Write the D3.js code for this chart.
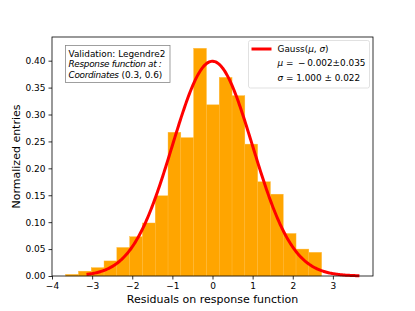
<!DOCTYPE html>
<html>
<head>
<meta charset="utf-8">
<script src="https://cdn.jsdelivr.net/npm/d3@7"></script>
<style>
  body { margin: 0; background: #fff; }
  svg { font-family: "DejaVu Sans", sans-serif; }
</style>
</head>
<body>
<svg id="chart" width="415" height="311"></svg>
<script>
// histogram bins (20 equal bins) and normalized heights
var binStart = -3.66, binEnd = 2.72;
var heights = [0.003, 0.009, 0.0155, 0.028, 0.053, 0.073, 0.0985, 0.149, 0.267, 0.257,
               0.423, 0.318, 0.369, 0.335, 0.245, 0.175, 0.152, 0.079, 0.050, 0.044];
var xTicks = [-4, -3, -2, -1, 0, 1, 2, 3];
var yTicks = [0.00, 0.05, 0.10, 0.15, 0.20, 0.25, 0.30, 0.35, 0.40];
// gauss fit
var mu = -0.002, sigma = 1.000;
var curveRange = [-3.14, 3.66];

var svg = d3.select("#chart");
var margin = { left: 52, right: 42, top: 37, bottom: 35 };
var W = 415, H = 311;

var x = d3.scaleLinear().domain([-4.0, 4.0]).range([margin.left, W - margin.right]);
var y = d3.scaleLinear().domain([0, 0.444]).range([H - margin.bottom, margin.top]);

var binW = (binEnd - binStart) / heights.length;
var bins = heights.map(function(h, i) {
  return { x0: binStart + i * binW, x1: binStart + (i + 1) * binW, h: h };
});

// bars
svg.append("g").selectAll("rect")
  .data(bins)
  .enter()
  .append("rect")
  .attr("x", function(d) { return x(d.x0); })
  .attr("width", function(d) { return x(d.x1) - x(d.x0); })
  .attr("y", function(d) { return y(d.h); })
  .attr("height", function(d) { return y(0) - y(d.h); })
  .attr("fill", "#ffa500")
  .attr("stroke", "#ffb938")
  .attr("stroke-width", 0.4);

// gauss curve
var pts = d3.range(0, 301).map(function(i) {
  var xv = curveRange[0] + (curveRange[1] - curveRange[0]) * i / 300;
  var yv = Math.exp(-0.5 * Math.pow((xv - mu) / sigma, 2)) / (sigma * Math.sqrt(2 * Math.PI));
  return [xv, yv];
});
svg.append("path")
  .datum(pts)
  .attr("d", d3.line().x(function(d) { return x(d[0]); }).y(function(d) { return y(d[1]); }))
  .attr("fill", "none")
  .attr("stroke", "#ff0000")
  .attr("stroke-width", 3);

// axes
var xAxis = svg.append("g")
  .attr("transform", "translate(0," + (H - margin.bottom) + ")")
  .call(d3.axisBottom(x).tickValues(xTicks).tickSize(3.5).tickPadding(3)
    .tickFormat(function(d) { return d < 0 ? "\u2212" + Math.abs(d) : d; }));
var yAxis = svg.append("g")
  .attr("transform", "translate(" + margin.left + ",0)")
  .call(d3.axisLeft(y).tickValues(yTicks).tickSize(3.5).tickPadding(3).tickFormat(d3.format(".2f")));
[xAxis, yAxis].forEach(function(a) {
  a.select(".domain").remove();
  a.selectAll("text").attr("font-size", 9).attr("fill", "#000").attr("font-family", "DejaVu Sans");
  a.selectAll("line").attr("stroke", "#000").attr("stroke-width", 0.8);
});

// frame
svg.append("rect")
  .attr("x", margin.left).attr("y", margin.top)
  .attr("width", W - margin.left - margin.right)
  .attr("height", H - margin.top - margin.bottom)
  .attr("fill", "none").attr("stroke", "#000").attr("stroke-width", 0.8);

// axis labels
svg.append("text")
  .attr("x", (margin.left + W - margin.right) / 2).attr("y", 303)
  .attr("text-anchor", "middle").attr("font-size", 11)
  .text("Residuals on response function");
svg.append("text")
  .attr("transform", "translate(20," + ((margin.top + H - margin.bottom) / 2) + ") rotate(-90)")
  .attr("text-anchor", "middle").attr("font-size", 11)
  .text("Normalized entries");

// info box
var info = svg.append("g");
info.append("rect")
  .attr("x", 65.5).attr("y", 45.5).attr("width", 104.5).attr("height", 37)
  .attr("fill", "#fff").attr("stroke", "#888").attr("stroke-width", 0.8);
info.append("text").attr("x", 68.5).attr("y", 56.5).attr("font-size", 8.9)
  .text("Validation: Legendre2");
info.append("text").attr("x", 68.5).attr("y", 66.8).attr("font-size", 8.9)
  .attr("font-style", "italic").attr("letter-spacing", -0.3)
  .text("Response function at :");
var t3 = info.append("text").attr("x", 68.5).attr("y", 77.6).attr("font-size", 8.9);
t3.append("tspan").attr("font-style", "italic").attr("letter-spacing", -0.3).text("Coordinates");
t3.append("tspan").text(" (0.3, 0.6)");

// legend
var leg = svg.append("g");
leg.append("rect")
  .attr("x", 248.5).attr("y", 40.5).attr("width", 121).attr("height", 47.5).attr("rx", 2)
  .attr("fill", "#fff").attr("stroke", "#d9d9d9").attr("stroke-width", 0.8);
leg.append("line")
  .attr("x1", 251.5).attr("x2", 271.5).attr("y1", 49).attr("y2", 49)
  .attr("stroke", "#ff0000").attr("stroke-width", 3);
var l1 = leg.append("text").attr("x", 277.5).attr("y", 52.3).attr("font-size", 8.9);
l1.append("tspan").text("Gauss(");
l1.append("tspan").attr("font-style", "italic").text("\u03bc");
l1.append("tspan").text(", ");
l1.append("tspan").attr("font-style", "italic").text("\u03c3");
l1.append("tspan").text(")");
var l2 = leg.append("text").attr("x", 277.5).attr("y", 66.3).attr("font-size", 8.9);
l2.append("tspan").attr("font-style", "italic").text("\u03bc");
l2.append("tspan").text(" = \u2009\u2212\u20090.002\u00b10.035");
var l3 = leg.append("text").attr("x", 277.5).attr("y", 80.5).attr("font-size", 8.9);
l3.append("tspan").attr("font-style", "italic").text("\u03c3");
l3.append("tspan").text(" = 1.000 \u00b1 0.022");
</script>
</body>
</html>
